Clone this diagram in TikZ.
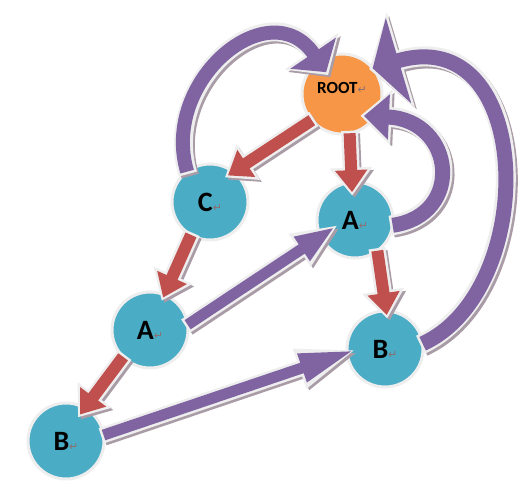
\documentclass[tikz,border=0pt]{standalone}
\usepackage{fontspec}
\setmainfont{Carlito}
\newfontfamily\symf{DejaVu Sans}
\usetikzlibrary{arrows.meta,calc}
\definecolor{orangeN}{HTML}{F79646}
\definecolor{tealN}{HTML}{4BACC6}
\definecolor{redA}{HTML}{C0504D}
\definecolor{purpA}{HTML}{8064A2}
\definecolor{rim}{HTML}{EEEEEE}
\definecolor{shade}{HTML}{A99CA6}
\definecolor{retc}{HTML}{8A6F6F}
\newcommand\retm{\textcolor{retc}{\symf\fontsize{11}{11}\selectfont\mdseries ↵}}
\begin{document}
\begin{tikzpicture}[x=1pt,y=-1pt,
  vtx/.style={circle,draw=rim,line width=3pt,inner sep=0pt,outer sep=0pt,minimum size=76pt,fill=tealN,
    font=\fontsize{28}{28}\selectfont\bfseries},
  blk/.style n args={4}{draw=#1,line width=#2,-{Triangle[width=#3,length=#4]},
    preaction={draw=shade,line width=#2+4pt,-{Triangle[width=#3+8pt,length=#4+5pt]},
      shorten >=-3pt,shorten <=-2pt,transform canvas={shift={(2.5pt,-2.5pt)}}},
    preaction={draw=rim,line width=#2+5pt,-{Triangle[width=#3+10pt,length=#4+6pt]},
      shorten >=-3.5pt,shorten <=-2.5pt}},
  redarr/.style={blk={redA}{12pt}{31pt}{22pt}},
  purarr/.style 2 args={blk={purpA}{11pt}{#1}{#2}}
]
\useasboundingbox (0,0) rectangle (531,484);
\node[vtx,fill=orangeN,minimum size=80pt] (root) at (342,94)
  {\raisebox{12pt}{\fontsize{17}{17}\selectfont\bfseries ROOT\retm}};
\node[vtx] (c)  at (210,202) {C\retm};
\node[vtx] (ar) at (355,220) {A\retm};
\node[vtx] (al) at (150,330) {A\retm};
\node[vtx] (br) at (385,349) {B\retm};
\node[vtx] (bl) at (66,441)  {B\retm};
% tree edges
\draw[redarr] (root.221) -- ($(c)+(56:32pt)$);
\draw[redarr] (root.281) -- ($(ar)+(96:28pt)$);
\draw[redarr] (c.240) -- ($(al)+(68:35pt)$);
\draw[redarr] (ar.306) -- ($(br)+(87:34pt)$);
\draw[redarr] (al.225) -- ($(bl)+(62:30pt)$);
% straight purple
\draw[purarr={26pt}{40pt}] (al.8) -- ($(ar)+(199:21pt)$);
\draw[purarr={27pt}{56pt}] (bl.9) -- ($(br)+(182:30pt)$);
% curved purple
\draw[blk={purpA}{15pt}{88pt}{27pt}] (br.8) .. controls (540,290) and (535,20) .. ($(root)+(40:40pt)$);
\draw[blk={purpA}{14pt}{54pt}{23pt}] (c.127) .. controls (160,80) and (270,-10) .. ($(root)+(126:27pt)$);
\draw[blk={purpA}{15pt}{44pt}{25pt}] (ar.352) .. controls (465,215) and (455,120) .. ($(root)+(-45:31pt)$);
\end{tikzpicture}
\end{document}
